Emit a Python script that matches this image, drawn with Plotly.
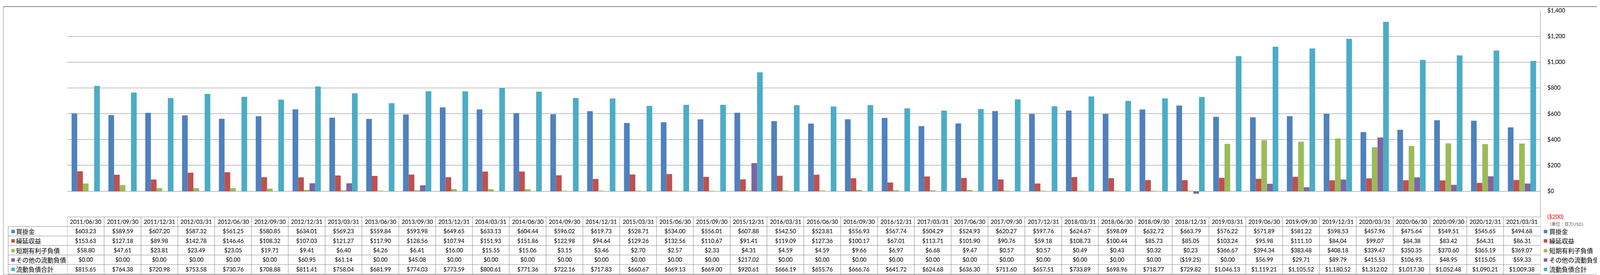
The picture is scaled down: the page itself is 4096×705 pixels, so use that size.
import plotly.graph_objects as go

# ---------------- data ----------------
dates = ["2011/06/30", "2011/09/30", "2011/12/31", "2012/03/31", "2012/06/30", "2012/09/30",
         "2012/12/31", "2013/03/31", "2013/06/30", "2013/09/30", "2013/12/31", "2014/03/31",
         "2014/06/30", "2014/09/30", "2014/12/31", "2015/03/31", "2015/06/30", "2015/09/30",
         "2015/12/31", "2016/03/31", "2016/06/30", "2016/09/30", "2016/12/31", "2017/03/31",
         "2017/06/30", "2017/09/30", "2017/12/31", "2018/03/31", "2018/06/30", "2018/09/30",
         "2018/12/31", "2019/03/31", "2019/06/30", "2019/09/30", "2019/12/31", "2020/03/31",
         "2020/06/30", "2020/09/30", "2020/12/31", "2021/03/31"]

accounts_payable = [603.23, 589.59, 607.20, 587.32, 561.25, 580.85, 634.01, 569.23, 559.84, 593.98,
                    649.65, 633.13, 604.44, 596.02, 619.73, 528.71, 534.00, 556.01, 607.88, 542.50,
                    523.81, 556.93, 567.74, 504.29, 524.93, 620.27, 597.76, 624.67, 598.09, 632.72,
                    663.79, 576.22, 571.89, 581.22, 598.53, 457.96, 475.64, 549.51, 545.65, 494.68]

deferred_revenue = [153.63, 127.18, 89.98, 142.78, 146.46, 108.32, 107.03, 121.27, 117.90, 128.56,
                    107.94, 151.93, 151.86, 122.98, 94.64, 129.26, 132.56, 110.67, 91.41, 119.09,
                    127.36, 100.17, 67.01, 113.71, 101.90, 90.76, 59.18, 108.73, 100.44, 85.73,
                    85.05, 103.24, 95.98, 111.10, 84.04, 99.07, 84.38, 83.42, 64.31, 86.31]

short_term_debt = [58.80, 47.61, 23.81, 23.49, 23.05, 19.71, 9.41, 6.40, 4.26, 6.41,
                   16.00, 15.55, 15.06, 3.15, 3.46, 2.70, 2.57, 2.33, 4.31, 4.59,
                   4.59, 9.66, 6.97, 6.68, 9.47, 0.57, 0.57, 0.49, 0.43, 0.32,
                   0.23, 366.67, 394.34, 383.48, 408.18, 339.47, 350.35, 370.60, 365.19, 369.07]

other_current = [0.00, 0.00, 0.00, 0.00, 0.00, 0.00, 60.95, 61.14, 0.00, 45.08,
                 0.00, 0.00, 0.00, 0.00, 0.00, 0.00, 0.00, 0.00, 217.02, 0.00,
                 0.00, 0.00, 0.00, 0.00, 0.00, 0.00, 0.00, 0.00, 0.00, 0.00,
                 -19.25, 0.00, 56.99, 29.71, 89.79, 415.53, 106.93, 48.95, 115.05, 59.33]

total_current = [815.65, 764.38, 720.98, 753.58, 730.76, 708.88, 811.41, 758.04, 681.99, 774.03,
                 773.59, 800.61, 771.36, 722.16, 717.83, 660.67, 669.13, 669.00, 920.61, 666.19,
                 655.76, 666.76, 641.72, 624.68, 636.30, 711.60, 657.51, 733.89, 698.96, 718.77,
                 729.82, 1046.13, 1119.21, 1105.52, 1180.52, 1312.02, 1017.30, 1052.48, 1090.21, 1009.38]

series_names = ["買掛金", "繰延収益", "短期有利子負債", "その他の流動負債", "流動負債合計"]
series_values = [accounts_payable, deferred_revenue, short_term_debt, other_current, total_current]
series_colors = ["#4F81BD", "#C0504D", "#9BBB59", "#8064A2", "#4BACC6"]

ytick_vals = [-200, 0, 200, 400, 600, 800, 1000, 1200, 1400]
unit_label = "（単位：百万USD）"

# ---------------- layout geometry (output pixels) ----------------
W, H = 4096, 705
PLOT_L, PLOT_R = 164.3, 3935.4
PLOT_T = 10.2
TABLE_T = 552.5
ROW_H = 25.0
LABEL_L = 13.1
LEGEND_KEY_X = 3941.0
LEGEND_TEXT_X = 3955.5
GRID = "#868686"
NUM_FONT = "Lato, 'Noto Sans CJK JP', sans-serif"
JP_FONT = "'Noto Sans CJK JP', sans-serif"


def fx(p):
    return p / W


def fy(p):
    return 1 - p / H


def money(v):
    s = "${:,.2f}".format(abs(v))
    return "(" + s + ")" if v < 0 else s


def tick_money(v):
    s = "${:,}".format(abs(v))
    if v < 0:
        return "<span style='color:#FF0000'>(" + s + ")</span>"
    return s


fig = go.Figure()
for name, vals, col in zip(series_names, series_values, series_colors):
    fig.add_trace(go.Bar(x=dates, y=vals, name=name, marker=dict(color=col, line=dict(width=0)),
                         hoverinfo="x+y+name"))

shapes = []
annotations = []
n = len(dates)
table_b = TABLE_T + 6 * ROW_H

# table borders
shapes.append(dict(type="line", xref="paper", yref="paper", x0=fx(PLOT_L), x1=fx(PLOT_R),
                   y0=fy(TABLE_T), y1=fy(TABLE_T), line=dict(color=GRID, width=1)))
for r in range(1, 7):
    yy = fy(TABLE_T + r * ROW_H)
    shapes.append(dict(type="line", xref="paper", yref="paper", x0=fx(LABEL_L), x1=fx(PLOT_R),
                       y0=yy, y1=yy, line=dict(color=GRID, width=1)))
for i in range(n + 1):
    shapes.append(dict(type="line", xref="x", yref="paper", x0=i - 0.5, x1=i - 0.5,
                       y0=fy(TABLE_T), y1=fy(table_b), line=dict(color=GRID, width=1)))
shapes.append(dict(type="line", xref="paper", yref="paper", x0=fx(LABEL_L), x1=fx(LABEL_L),
                   y0=fy(TABLE_T + ROW_H), y1=fy(table_b), line=dict(color=GRID, width=1)))
# outer chart border
shapes.append(dict(type="rect", xref="paper", yref="paper", x0=0, x1=1, y0=0, y1=1,
                   line=dict(color=GRID, width=2)))

# header dates
for d in dates:
    annotations.append(dict(x=d, xref="x", y=fy(TABLE_T + ROW_H / 2), yref="paper", text=d,
                            showarrow=False, xanchor="center", yanchor="middle",
                            font=dict(family=NUM_FONT, size=14.5, color="#000000")))
# rows (table row labels with legend keys, values, and the right-hand legend)
for r, (name, vals, col) in enumerate(zip(series_names, series_values, series_colors)):
    yc = fy(TABLE_T + ROW_H * (r + 1.5))
    for kx, tx in ((LABEL_L + 4.5, LABEL_L + 17.5), (LEGEND_KEY_X, LEGEND_TEXT_X)):
        annotations.append(dict(x=fx(kx), xref="paper", y=yc, yref="paper", text="■",
                                showarrow=False, xanchor="left", yanchor="middle",
                                font=dict(family=JP_FONT, size=11, color=col)))
        annotations.append(dict(x=fx(tx), xref="paper", y=yc, yref="paper", text=name,
                                showarrow=False, xanchor="left", yanchor="middle",
                                font=dict(family=JP_FONT, size=16, color="#000000")))
    for d, v in zip(dates, vals):
        annotations.append(dict(x=d, xref="x", y=yc, yref="paper", text=money(v),
                                showarrow=False, xanchor="center", yanchor="middle",
                                font=dict(family=NUM_FONT, size=14.5, color="#000000")))

annotations.append(dict(x=fx(3950.5), xref="paper", y=fy(570.6), yref="paper", text=unit_label,
                        showarrow=False, xanchor="left", yanchor="middle",
                        font=dict(family=JP_FONT, size=11, color="#595959")))

fig.update_layout(
    width=W, height=H,
    margin=dict(l=0, r=0, t=0, b=0),
    paper_bgcolor="white", plot_bgcolor="white",
    barmode="group", bargap=0.233, bargroupgap=0,
    showlegend=False,
    xaxis=dict(domain=[fx(PLOT_L), fx(PLOT_R)], type="category", range=[-0.5, n - 0.5],
               showticklabels=False, showgrid=False, zeroline=False, showline=False, ticks=""),
    yaxis=dict(domain=[fy(TABLE_T), fy(PLOT_T)], range=[-200, 1400], side="right",
               tickvals=ytick_vals, ticktext=[tick_money(v) for v in ytick_vals],
               showgrid=True, gridcolor=GRID, gridwidth=1, zeroline=False,
               showline=True, linecolor=GRID, linewidth=1, ticks="",
               ticklabelstandoff=14,
               tickfont=dict(family=NUM_FONT, size=14.5, color="#000000")),
    shapes=shapes, annotations=annotations,
)

fig.write_html("out.html")
